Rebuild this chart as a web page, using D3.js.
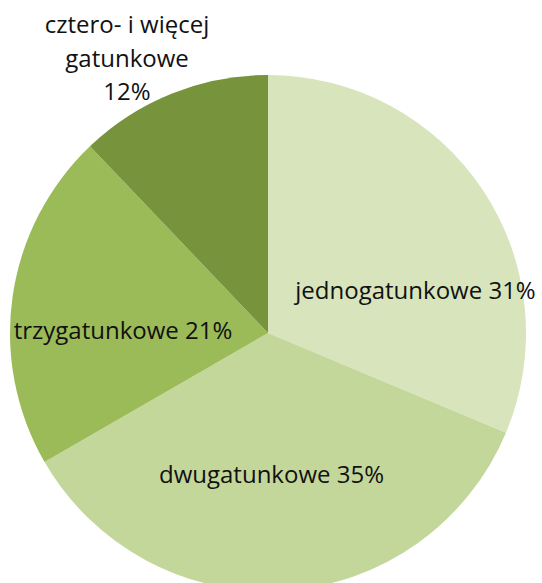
<!DOCTYPE html>
<html>
<head>
<meta charset="utf-8">
<script src="https://cdn.jsdelivr.net/npm/d3@7"></script>
<style>
  html, body { margin: 0; padding: 0; background: #fff; }
  svg { display: block; }
  text { font-family: "Open Sans", Lato, sans-serif; fill: #111; }
</style>
</head>
<body>
<svg id="chart" width="542" height="583"></svg>
<script>
// Share of stands by number of tree species
const categories = ["jednogatunkowe", "dwugatunkowe", "trzygatunkowe", "cztero- i więcej gatunkowe"];
const values = [31, 35, 21, 12];
const colors = ["#d8e4bc", "#c4d79b", "#9bbb59", "#77933c"];
// label lines and offsets from the pie centre (px)
const labelLines = [
  ["jednogatunkowe 31%"],
  ["dwugatunkowe 35%"],
  ["trzygatunkowe 21%"],
  ["cztero- i więcej", "gatunkowe", "12%"]
];
const labelOffsets = [[147.5, -34], [3.5, 150], [-145, 6], [-141, -300]];

const width = 542, height = 583;
const cx = 268, cy = 333, radius = 258;

const svg = d3.select("#chart");
const g = svg.append("g").attr("transform", `translate(${cx},${cy})`);

const data = categories.map((c, i) => ({ category: c, value: values[i], i }));
const pie = d3.pie().value(d => d.value).sort(null);
const arc = d3.arc().innerRadius(0).outerRadius(radius);

g.selectAll("path.slice")
  .data(pie(data))
  .join("path")
  .attr("class", "slice")
  .attr("d", arc)
  .attr("fill", d => colors[d.data.i]);

const labels = g.selectAll("text.label")
  .data(data)
  .join("text")
  .attr("class", "label")
  .attr("text-anchor", "middle")
  .attr("font-size", 24)
  .attr("transform", d => `translate(${labelOffsets[d.i][0]},${labelOffsets[d.i][1]})`);

labels.each(function(d) {
  const t = d3.select(this);
  labelLines[d.i].forEach((line, k) => {
    t.append("tspan")
      .attr("x", 0)
      .attr("dy", k === 0 ? 0 : 33.5)
      .text(line);
  });
});
</script>
</body>
</html>
